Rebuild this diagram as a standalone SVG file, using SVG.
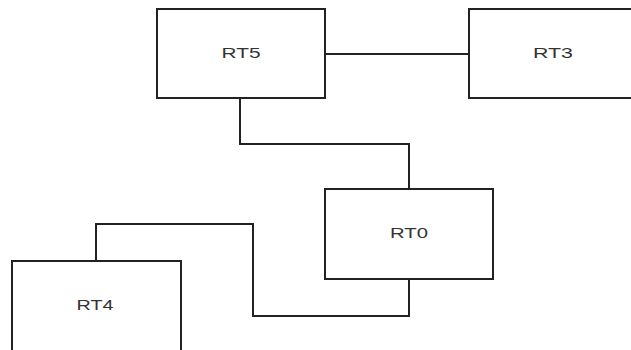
<svg xmlns="http://www.w3.org/2000/svg" width="631" height="350" viewBox="0 0 631 350">
  <style>
    .box { fill: #ffffff; stroke: #222222; stroke-width: 2; }
    .wire { fill: none; stroke: #222222; stroke-width: 2; }
    .label { font-family: "Liberation Sans", Arial, sans-serif; font-size: 14px; fill: #333333; text-anchor: middle; }
  </style>
  <rect width="631" height="350" fill="#ffffff"/>
  <g id="connectors">
    <path class="wire" d="M325 54 H469"/>
    <path class="wire" d="M240 98 V144 H409 V189"/>
    <path class="wire" d="M96 261 V224 H253 V316 H409 V279"/>
  </g>
  <g id="RT5">
    <rect class="box" x="157" y="9" width="168" height="89"/>
    <text class="label" x="241" y="58" textLength="39" lengthAdjust="spacingAndGlyphs">RT5</text>
  </g>
  <g id="RT3">
    <rect class="box" x="469" y="9" width="168" height="89"/>
    <text class="label" x="553" y="58" textLength="40" lengthAdjust="spacingAndGlyphs">RT3</text>
  </g>
  <g id="RT0">
    <rect class="box" x="325" y="189" width="168" height="90"/>
    <text class="label" x="409" y="238" textLength="38" lengthAdjust="spacingAndGlyphs">RT0</text>
  </g>
  <g id="RT4">
    <rect class="box" x="12" y="261" width="169" height="92"/>
    <text class="label" x="95" y="310" textLength="37" lengthAdjust="spacingAndGlyphs">RT4</text>
  </g>
</svg>
